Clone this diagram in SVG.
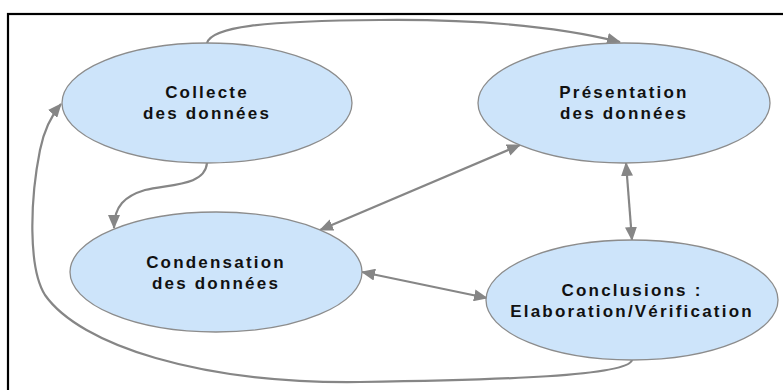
<svg xmlns="http://www.w3.org/2000/svg" width="783" height="390" viewBox="0 0 783 390">
<style>
.node{fill:#cde4fa;stroke:#8c8c8c;stroke-width:1.3}
.lbl{font-family:"Liberation Sans",Arial,sans-serif;font-weight:bold;font-size:17px;letter-spacing:2.2px;fill:#111;text-anchor:middle}
.c{fill:none;stroke:#868686;stroke-width:2.2}
</style>
<defs>
<marker id="ah" markerUnits="userSpaceOnUse" markerWidth="14" markerHeight="12" viewBox="0 0 14 12" refX="13" refY="6" orient="auto-start-reverse">
<path d="M0,0 L14,6 L0,12 z" fill="#868686"/>
</marker>
</defs>
<rect x="8" y="14" width="800" height="400" fill="#fff" stroke="#000" stroke-width="2.2"/>
<g id="connectors">
<path class="c" marker-end="url(#ah)" d="M207,43 C212,27 260,21 380,20 C480,19 560,27 620,42"/>
<path class="c" marker-end="url(#ah)" d="M207,163 C205,186 170,184 145,190 C125,196 114,206 114,228"/>
<path class="c" marker-start="url(#ah)" marker-end="url(#ah)" d="M320,230 L520,145"/>
<path class="c" marker-start="url(#ah)" marker-end="url(#ah)" d="M362,272 L487,298"/>
<path class="c" marker-start="url(#ah)" marker-end="url(#ah)" d="M626,163 L632,240"/>
<path class="c" marker-end="url(#ah)" d="M632,360 C628,376 500,380 360,382 C200,384 80,345 45,295 C28,268 30,200 40,150 C44,130 50,117 61,104"/>
</g>
<g id="collecte">
<ellipse class="node" cx="207" cy="103" rx="145" ry="60"/>
<text class="lbl" x="207" y="98">Collecte</text>
<text class="lbl" x="207" y="119">des données</text>
</g>
<g id="presentation">
<ellipse class="node" cx="624" cy="103" rx="146" ry="60"/>
<text class="lbl" x="624" y="98">Présentation</text>
<text class="lbl" x="624" y="119">des données</text>
</g>
<g id="condensation">
<ellipse class="node" cx="216" cy="272" rx="146" ry="60"/>
<text class="lbl" x="216" y="268">Condensation</text>
<text class="lbl" x="216" y="289">des données</text>
</g>
<g id="conclusions">
<ellipse class="node" cx="632" cy="300" rx="146" ry="60"/>
<text class="lbl" x="632" y="296">Conclusions :</text>
<text class="lbl" x="632" y="317">Elaboration/Vérification</text>
</g>
</svg>
